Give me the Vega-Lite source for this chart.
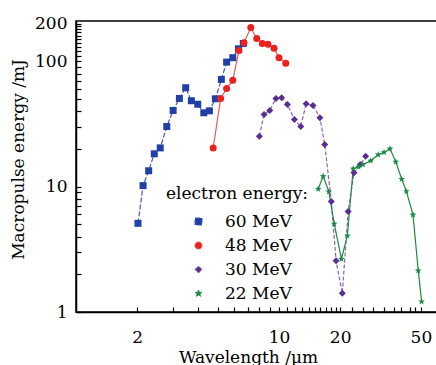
{
  "$schema": "https://vega.github.io/schema/vega-lite/v6.json",
  "autosize": "none",
  "padding": {"left": 76, "top": 21, "right": 0, "bottom": 53},
  "width": 361,
  "height": 291,
  "background": "white",
  "config": {
    "font": "DejaVu Serif",
    "view": {"stroke": "black", "strokeWidth": 1.5},
    "axis": {
      "domainColor": "black", "domainWidth": 1.5,
      "tickColor": "black", "tickSize": -5, "tickWidth": 1.2,
      "labelFont": "DejaVu Serif", "labelFontSize": 17, "labelColor": "black",
      "titleFont": "DejaVu Serif", "titleFontSize": 17, "titleColor": "black", "titleFontWeight": "normal",
      "grid": false, "labelOverlap": false, "labelFlush": false
    },
    "legend": {
      "titleFont": "DejaVu Serif", "titleFontSize": 17, "titleFontWeight": "normal", "titleColor": "black",
      "labelFont": "DejaVu Serif", "labelFontSize": 17, "labelColor": "black",
      "padding": 0
    }
  },
  "data": {"values": [
    {"energy": "60 MeV", "wavelength": 2.02, "macropulse": 5.1},
    {"energy": "60 MeV", "wavelength": 2.14, "macropulse": 10.2},
    {"energy": "60 MeV", "wavelength": 2.28, "macropulse": 13.4},
    {"energy": "60 MeV", "wavelength": 2.43, "macropulse": 18.3},
    {"energy": "60 MeV", "wavelength": 2.60, "macropulse": 20.4},
    {"energy": "60 MeV", "wavelength": 2.80, "macropulse": 30.2},
    {"energy": "60 MeV", "wavelength": 3.01, "macropulse": 40.6},
    {"energy": "60 MeV", "wavelength": 3.23, "macropulse": 50.6},
    {"energy": "60 MeV", "wavelength": 3.47, "macropulse": 61.6},
    {"energy": "60 MeV", "wavelength": 3.70, "macropulse": 48.5},
    {"energy": "60 MeV", "wavelength": 3.98, "macropulse": 45.5},
    {"energy": "60 MeV", "wavelength": 4.26, "macropulse": 38.9},
    {"energy": "60 MeV", "wavelength": 4.54, "macropulse": 40.3},
    {"energy": "60 MeV", "wavelength": 4.86, "macropulse": 50.3},
    {"energy": "60 MeV", "wavelength": 5.20, "macropulse": 71.8},
    {"energy": "60 MeV", "wavelength": 5.52, "macropulse": 98.7},
    {"energy": "60 MeV", "wavelength": 5.92, "macropulse": 107},
    {"energy": "60 MeV", "wavelength": 6.31, "macropulse": 126},
    {"energy": "60 MeV", "wavelength": 6.67, "macropulse": 139},
    {"energy": "48 MeV", "wavelength": 4.74, "macropulse": 20.4},
    {"energy": "48 MeV", "wavelength": 5.16, "macropulse": 50.6},
    {"energy": "48 MeV", "wavelength": 5.52, "macropulse": 60.8},
    {"energy": "48 MeV", "wavelength": 5.92, "macropulse": 70.8},
    {"energy": "48 MeV", "wavelength": 6.35, "macropulse": 122},
    {"energy": "48 MeV", "wavelength": 6.72, "macropulse": 141},
    {"energy": "48 MeV", "wavelength": 7.26, "macropulse": 186},
    {"energy": "48 MeV", "wavelength": 7.77, "macropulse": 152},
    {"energy": "48 MeV", "wavelength": 8.28, "macropulse": 139},
    {"energy": "48 MeV", "wavelength": 8.83, "macropulse": 137},
    {"energy": "48 MeV", "wavelength": 9.45, "macropulse": 127},
    {"energy": "48 MeV", "wavelength": 10.0, "macropulse": 107},
    {"energy": "48 MeV", "wavelength": 10.8, "macropulse": 96.4},
    {"energy": "30 MeV", "wavelength": 8.00, "macropulse": 25.3},
    {"energy": "30 MeV", "wavelength": 8.44, "macropulse": 37.7},
    {"energy": "30 MeV", "wavelength": 9.00, "macropulse": 40.6},
    {"energy": "30 MeV", "wavelength": 9.66, "macropulse": 50.6},
    {"energy": "30 MeV", "wavelength": 10.3, "macropulse": 51.3},
    {"energy": "30 MeV", "wavelength": 11.0, "macropulse": 45.3},
    {"energy": "30 MeV", "wavelength": 11.9, "macropulse": 34.4},
    {"energy": "30 MeV", "wavelength": 12.8, "macropulse": 30.2},
    {"energy": "30 MeV", "wavelength": 13.6, "macropulse": 45.9},
    {"energy": "30 MeV", "wavelength": 14.7, "macropulse": 44.5},
    {"energy": "30 MeV", "wavelength": 15.9, "macropulse": 35.5},
    {"energy": "30 MeV", "wavelength": 16.8, "macropulse": 21.7},
    {"energy": "30 MeV", "wavelength": 18.1, "macropulse": 7.63},
    {"energy": "30 MeV", "wavelength": 19.1, "macropulse": 2.56},
    {"energy": "30 MeV", "wavelength": 20.5, "macropulse": 1.41},
    {"energy": "30 MeV", "wavelength": 21.9, "macropulse": 6.35},
    {"energy": "30 MeV", "wavelength": 23.4, "macropulse": 12.9},
    {"energy": "30 MeV", "wavelength": 25.1, "macropulse": 15.0},
    {"energy": "30 MeV", "wavelength": 26.7, "macropulse": 17.5},
    {"energy": "22 MeV", "wavelength": 15.6, "macropulse": 9.59},
    {"energy": "22 MeV", "wavelength": 16.5, "macropulse": 12.1},
    {"energy": "22 MeV", "wavelength": 17.6, "macropulse": 9.12},
    {"energy": "22 MeV", "wavelength": 18.7, "macropulse": 5.06},
    {"energy": "22 MeV", "wavelength": 20.3, "macropulse": 2.65},
    {"energy": "22 MeV", "wavelength": 21.7, "macropulse": 4.06},
    {"energy": "22 MeV", "wavelength": 23.2, "macropulse": 13.9},
    {"energy": "22 MeV", "wavelength": 24.6, "macropulse": 14.4},
    {"energy": "22 MeV", "wavelength": 25.9, "macropulse": 15.0},
    {"energy": "22 MeV", "wavelength": 28.3, "macropulse": 16.1},
    {"energy": "22 MeV", "wavelength": 30.8, "macropulse": 18.0},
    {"energy": "22 MeV", "wavelength": 32.9, "macropulse": 18.8},
    {"energy": "22 MeV", "wavelength": 35.2, "macropulse": 20.1},
    {"energy": "22 MeV", "wavelength": 37.6, "macropulse": 15.8},
    {"energy": "22 MeV", "wavelength": 40.2, "macropulse": 11.5},
    {"energy": "22 MeV", "wavelength": 42.4, "macropulse": 9.17},
    {"energy": "22 MeV", "wavelength": 45.7, "macropulse": 5.97},
    {"energy": "22 MeV", "wavelength": 48.5, "macropulse": 2.14},
    {"energy": "22 MeV", "wavelength": 50.4, "macropulse": 1.21}
  ]},
  "encoding": {
    "x": {
      "field": "wavelength", "type": "quantitative",
      "scale": {"type": "log", "domain": [1, 60], "nice": false},
      "axis": {
        "title": "Wavelength /μm",
        "values": [2,3,4,5,6,7,8,9,10,11,12,13,14,15,16,17,18,19,20,23,26,29,33,37,40,44,47,50],
        "labelExpr": "(datum.value == 2 || datum.value == 10 || datum.value == 20 || datum.value == 50) ? datum.value : ''",
        "labelPadding": 22,
        "titleX": 172, "titleY": 45, "titleBaseline": "middle", "titleAnchor": "middle"
      }
    },
    "y": {
      "field": "macropulse", "type": "quantitative",
      "scale": {"type": "log", "domain": [1, 210], "nice": false},
      "axis": {
        "title": "Macropulse energy /mJ",
        "values": [1,2,3,4,5,6,7,8,9,10,20,30,40,50,60,70,80,90,100,110,120,130,140,150,160,170,180,190,200],
        "labelExpr": "(datum.value == 1 || datum.value == 10 || datum.value == 100 || datum.value == 200) ? datum.value : ''",
        "labelPadding": 14,
        "titleX": -58, "titleY": 138, "titleBaseline": "middle", "titleAnchor": "middle"
      }
    }
  },
  "layer": [
    {
      "mark": {"type": "line", "strokeWidth": 1.2, "clip": true},
      "encoding": {
        "stroke": {
          "field": "energy", "type": "nominal",
          "scale": {"domain": ["60 MeV", "48 MeV", "30 MeV", "22 MeV"], "range": ["#4656b8", "#e85a5a", "#8a66b8", "#1d8a40"]},
          "legend": {
            "title": "electron energy:", "orient": "none", "legendX": 90, "legendY": 165,
            "symbolSize": 64, "symbolStrokeWidth": 1, "rowPadding": 6, "titlePadding": 10,
            "symbolOffset": 24, "labelOffset": 18, "zindex": 0
          }
        },
        "strokeDash": {
          "field": "energy", "type": "nominal",
          "scale": {"domain": ["60 MeV", "48 MeV", "30 MeV", "22 MeV"], "range": [[5, 2], [1, 0], [4, 2], [1, 0]]},
          "legend": null
        }
      }
    },
    {
      "mark": {"type": "point", "filled": true, "opacity": 1, "clip": true},
      "encoding": {
        "fill": {
          "field": "energy", "type": "nominal",
          "scale": {"domain": ["60 MeV", "48 MeV", "30 MeV", "22 MeV"], "range": ["#2140a6", "#e8231f", "#5a2d92", "#178a44"]},
          "legend": {
            "title": "electron energy:", "orient": "none", "legendX": 90, "legendY": 165,
            "symbolSize": 64, "symbolStrokeWidth": 1, "rowPadding": 6, "titlePadding": 10,
            "symbolOffset": 24, "labelOffset": 18, "zindex": 0
          }
        },
        "shape": {
          "field": "energy", "type": "nominal",
          "scale": {"domain": ["60 MeV", "48 MeV", "30 MeV", "22 MeV"], "range": ["square", "circle", "diamond", "M0,-1L0.247,-0.34L0.951,-0.309L0.399,0.13L0.588,0.809L0,0.42L-0.588,0.809L-0.399,0.13L-0.951,-0.309L-0.247,-0.34Z"]},
          "legend": {
            "title": "electron energy:", "orient": "none", "legendX": 90, "legendY": 165,
            "symbolSize": 64, "symbolStrokeWidth": 1, "rowPadding": 6, "titlePadding": 10,
            "symbolOffset": 24, "labelOffset": 18, "zindex": 0
          }
        },
        "size": {
          "field": "energy", "type": "nominal",
          "scale": {"domain": ["60 MeV", "48 MeV", "30 MeV", "22 MeV"], "range": [49, 49, 81, 130]},
          "legend": null
        }
      }
    }
  ]
}
